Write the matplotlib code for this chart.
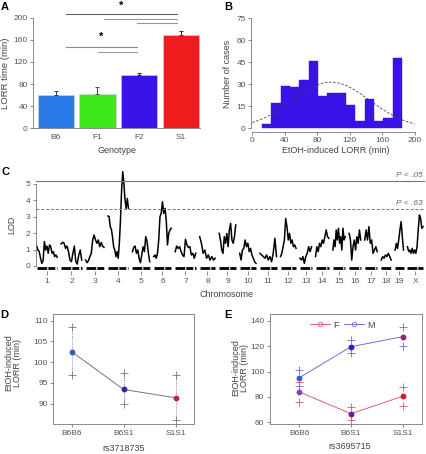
import numpy as np
import matplotlib
matplotlib.use("Agg")
import matplotlib.pyplot as plt
from matplotlib.lines import Line2D

plt.rcParams['font.family'] = ['Liberation Sans', 'DejaVu Sans']

# =====================
# DATA
# =====================
# A - LORR time per genotype
genotypes = ['B6', 'F1', 'F2', 'S1']
lorr_mean = [60, 62, 96, 168]
lorr_err = [7, 12, 3.5, 8]
bar_colors = ['#2a7ae8', '#3ee81c', '#3a12e6', '#ee1c1c']
err_colors = ['#1a3f80', '#1f6a10', '#20107a', '#801010']
# significance brackets (x from / to, height), stars
sig_left = [0.24, 1.16, 1.96, 0.24, 1.02]
sig_right = [2.9, 2.9, 2.9, 1.96, 1.96]
sig_y = [206, 197, 190, 147.5, 138.5]
sig_col = ['#666666', '#999999', '#999999', '#888888', '#999999']
star_x = [1.57, 1.1]
star_y = [222, 165]

# B - histogram of EtOH-induced LORR
bin_start = 12
bin_width = 11.5
hist_counts = [3, 17, 29, 28, 33, 46, 22, 24, 24, 16, 5, 20, 5, 7, 48]

# C - genome scan (LOD per chromosome)
chrom_names = ['1', '2', '3', '4', '5', '6', '7', '8', '9', '10',
               '11', '12', '13', '14', '15', '16', '17', '18', '19', 'X']
chrom_len = [103, 103, 92, 103, 87, 88, 103, 78, 83, 82,
             83, 78, 58, 67, 62, 58, 63, 50, 42, 78]
lod = [
    [1.21, 0.97, 0.87, 0.47, 0.16, 0.32, 1.48, 0.97, 1.21, 0.77, 1.28, 1.17, 0.77, 0.87, 0.57, 0.67, 0.53],
    [1.34, 1.44, 1.38, 1.07, 1.21, 0.87, 0.36, 0.26, 0.77, 1.21, 0.26, 0.12, 0.67, 0.97, 0.36],
    [0.36, 0.20, 0.32, 0.57, 0.77, 1.58, 1.88, 1.58, 1.38, 1.58, 1.17, 1.42, 1.21, 1.13],
    [3.04, 3.00, 2.39, 2.23, 1.78, 1.17, 0.97, 0.57, 0.87, 0.47, 1.38, 2.79, 4.62, 5.73, 5.02, 4.00, 3.50, 4.10, 3.50],
    [0.87, 1.13, 1.21, 0.77, 0.97, 0.47, 0.20, 0.67, 1.17, 0.87, 1.78, 1.48, 0.77, 0.26],
    [0.57, 0.67, 0.47, 0.77, 1.58, 3.00, 3.20, 3.90, 3.20, 3.50, 2.79, 1.28, 1.98, 2.19, 2.29],
    [0.87, 1.21, 1.07, 1.17, 0.87, 0.67, 0.57, 1.62, 1.28, 1.13, 1.17, 0.67, 0.77, 0.47, 0.77],
    [1.78, 1.38, 0.77, 0.97, 0.47, 0.67, 0.36, 0.57, 0.36, 0.47],
    [1.98, 1.58, 0.97, 0.77, 1.78, 1.38, 1.98, 1.17, 2.19, 2.59, 1.58, 1.38, 1.78, 2.49],
    [0.77, 0.36, 0.97, 1.07, 1.58, 1.17, 1.38, 0.87, 1.07, 0.67, 0.47, 0.26, 0.16],
    [0.77, 0.67, 0.57, 0.47, 0.67, 0.36, 0.57, 0.26, 0.77, 1.68, 0.57],
    [0.57, 0.77, 1.17, 1.58, 2.89, 2.39, 1.58, 1.98, 1.38, 1.58, 1.17, 1.28, 1.07],
    [0.47, 0.36, 0.57, 0.16, 0.57, 0.77, 1.17, 0.87, 1.17],
    [0.57, 1.17, 0.87, 1.38, 1.17, 1.58, 1.38, 1.78, 2.19, 1.78, 1.68],
    [0.97, 1.58, 1.17, 2.19, 1.58, 2.29, 1.38, 1.78, 0.97, 2.29, 1.58, 1.78],
    [1.98, 1.58, 0.36, 1.17, 1.58, 0.97, 1.78, 1.38, 2.19, 1.58],
    [1.58, 2.19, 1.58, 2.39, 1.38, 1.58, 0.77, 0.97, 1.17, 0.87],
    [0.36, 0.57, 0.47, 0.67, 0.57, 0.77, 0.57, 0.36],
    [0.97, 1.38, 1.07, 1.58, 2.19, 2.69, 1.78, 0.97],
    [1.17, 0.87, 0.97, 0.77, 1.07, 0.77, 0.97, 0.77, 1.17, 2.19, 3.10, 2.89, 2.29, 2.39],
]
thr_05 = 5.15
thr_63 = 3.44

# D - effect plot rs3718735
snp_geno = ['B6B6', 'B6S1', 'S1S1']
d_mean = [102.5, 93.4, 91.4]
d_hi = [108.4, 97.3, 96.8]
d_lo = [96.8, 89.8, 86.1]
d_cols = ['#3a5fb5', '#2a2aa0', '#b02a3a']
d_vcols = ['#8090d0', '#7070c0', '#c07890']

# E - effect plot rs3695715 by sex
m_mean = [95.1, 119.5, 127.4]
m_hi = [101.2, 124.8, 134.8]
m_lo = [88.6, 114.8, 120.3]
f_mean = [83.9, 66.8, 80.5]
f_hi = [91.5, 71.8, 87.6]
f_lo = [75.7, 61.8, 73.1]
m_pt_cols = ['#2f5fd0', '#2525c8', '#a02060']
f_pt_cols = ['#7a4ab0', '#6a1a9a', '#d0202a']

# =====================
# FIGURE
# =====================
W, H = 426, 454
fig = plt.figure(figsize=(W / 100, H / 100), dpi=100)

TICK_C = '#555555'
SPINE_C = '#777777'
LAB_C = '#444444'


def box(l, t, r, b):
    return fig.add_axes([l / W, 1 - b / H, (r - l) / W, (b - t) / H])


def style(ax):
    ax.tick_params(length=2.5, width=0.6, color=SPINE_C, labelsize=6,
                   labelcolor=TICK_C, pad=1.5)
    for s in ax.spines.values():
        s.set_color(SPINE_C)
        s.set_linewidth(0.6)


def letter(x, y, s):
    fig.text(x / W, 1 - y / H, s, fontsize=8, fontweight='bold',
             ha='left', va='center')


# ---- A
axA = box(33.3, 17.7, 200, 128.3)
style(axA)
xa = np.arange(len(genotypes))
axA.bar(xa, lorr_mean, width=0.87, color=bar_colors, edgecolor='#d8d8d8', linewidth=0.4)
for xi, m, e, c in zip(xa, lorr_mean, lorr_err, err_colors):
    axA.errorbar(xi, m, yerr=[[0], [e]], color=c, lw=0.7, capsize=1.5, capthick=0.7)
for l, r, y, c in zip(sig_left, sig_right, sig_y, sig_col):
    axA.plot([l, r], [y, y], color=c, lw=0.8, clip_on=False)
for sx, sy in zip(star_x, star_y):
    axA.text(sx, sy, '*', ha='center', va='center', fontsize=8, fontweight='bold')
axA.set_xlim(-0.54, 3.46)
axA.set_ylim(0, 200)
axA.set_yticks(range(0, 201, 40))
axA.set_xticks(xa)
axA.set_xticklabels(genotypes)
axA.tick_params(axis='x', length=0, pad=4)
axA.spines[['top', 'right']].set_visible(False)
axA.spines['left'].set_bounds(0, 200)
axA.set_ylabel('LORR time (min)', fontsize=6.8, color=LAB_C)
axA.yaxis.set_label_coords(-0.14, 0.5)
axA.set_xlabel('Genotype', fontsize=6.5, color=LAB_C)
axA.xaxis.set_label_coords(0.5, -0.16)
letter(0.5, 6.5, 'A')

# ---- B
axB = box(251.3, 16.8, 417.1, 131.7)
style(axB)
edges = bin_start + bin_width * np.arange(len(hist_counts) + 1)
axB.bar(edges[:-1], hist_counts, width=bin_width, align='edge',
        color='#3a12e6', edgecolor='#3a12e6', linewidth=0.3)
centers = (edges[:-1] + edges[1:]) / 2
cnt = np.array(hist_counts)
mu = np.sum(cnt * centers) / cnt.sum()
sd = np.sqrt(np.sum(cnt * (centers - mu) ** 2) / cnt.sum())
xs = np.linspace(0, 200, 300)
fit = cnt.sum() * bin_width * np.exp(-0.5 * ((xs - mu) / sd) ** 2) / (sd * np.sqrt(2 * np.pi))
axB.plot(xs, fit, color='#444444', lw=0.6, ls=(0, (3, 2)))
axB.set_xlim(-1.2, 203)
axB.set_ylim(-2.3, 76)
axB.set_xticks(range(0, 201, 40))
axB.set_yticks(range(0, 76, 15))
axB.spines[['top', 'right']].set_visible(False)
axB.spines['left'].set_bounds(0, 75)
axB.spines['bottom'].set_bounds(0, 200)
axB.set_ylabel('Number of cases', fontsize=6.5, color=LAB_C)
axB.yaxis.set_label_coords(-0.116, 0.5)
axB.set_xlabel('EtOH-induced LORR (min)', fontsize=6.5, color=LAB_C)
axB.xaxis.set_label_coords(0.51, -0.124)
letter(224, 7, 'B')

# ---- C
gap = 20
starts = np.concatenate([[0], np.cumsum(np.array(chrom_len[:-1]) + gap)])
total = starts[-1] + chrom_len[-1]
axC = box(35.7, 168.9, 425, 271.4)
style(axC)
mids = []
for st, ln, vals in zip(starts, chrom_len, lod):
    pos = np.linspace(st, st + ln, len(vals))
    axC.plot(pos, vals, color='black', lw=1.1)
    # marker rug below the curve
    axC.plot([st, st + ln], [-0.12, -0.12], color='black', lw=2.0,
             solid_capstyle='butt', ls=(0, (3.5, 0.4, 2.5, 0.6, 0.8, 0.6)))
    mids.append(st + ln / 2)
axC.axhline(thr_05, color='#777777', lw=0.8)
axC.axhline(thr_63, color='#777777', lw=0.7, ls=(0, (3, 2)))
axC.text(total, 5.5, 'P < .05', ha='right', va='center', fontsize=6,
         style='italic', color='#666666')
axC.text(total, 3.78, 'P < .63', ha='right', va='center', fontsize=6,
         style='italic', color='#666666')
axC.set_xlim(-5, total + 10)
axC.set_ylim(-0.33, 5.9)
axC.set_yticks(range(0, 6))
axC.set_xticks(mids)
axC.set_xticklabels(chrom_names)
axC.tick_params(axis='x', length=3, pad=2)
axC.spines[['top', 'right', 'bottom']].set_visible(False)
axC.spines['left'].set_bounds(0, 5)
axC.set_ylabel('LOD', fontsize=6.5, color=LAB_C)
axC.yaxis.set_label_coords(-0.0506, 0.45)
axC.set_xlabel('Chromosome', fontsize=6.5, color=LAB_C)
axC.xaxis.set_label_coords(0.489, -0.181)
letter(1.5, 172, 'C')

# ---- D
axD = box(53.3, 314.3, 194, 424.3)
style(axD)
xd = np.arange(len(snp_geno))
axD.plot(xd, d_mean, color='#777777', lw=0.7, zorder=2)
for xi, m, hi, lo, c, vc in zip(xd, d_mean, d_hi, d_lo, d_cols, d_vcols):
    axD.plot([xi, xi], [lo, hi], color=vc, lw=0.7, ls=(0, (1, 1.2)), zorder=1)
    axD.plot([xi, xi], [lo, hi], ls='none', marker='+', ms=6, mew=0.6, color='#777777')
    axD.plot(xi, m, 'o', ms=3.2, color=c, zorder=3)
axD.set_xlim(-0.354, 2.354)
axD.set_ylim(85.0, 111.55)
axD.set_yticks(range(90, 111, 5))
axD.set_xticks(xd)
axD.set_xticklabels(snp_geno)
axD.set_ylabel('EtOH-induced\nLORR (min)', fontsize=6.5, color=LAB_C, linespacing=1.0)
axD.yaxis.set_label_coords(-0.222, 0.557)
axD.set_xlabel('rs3718735', fontsize=6.5, color=LAB_C)
axD.xaxis.set_label_coords(0.5, -0.179)
letter(0.5, 315.5, 'D')

# ---- E
axE = box(270, 314.3, 421.7, 424)
style(axE)
xe = np.arange(len(snp_geno))
axE.plot(xe, m_mean, color='#7070e0', lw=0.7, zorder=2)
axE.plot(xe, f_mean, color='#e06070', lw=0.7, zorder=2)
for xi in xe:
    axE.plot([xi, xi], [m_lo[xi], m_hi[xi]], ls='none', marker='+', ms=6,
             mew=0.6, color='#6a6ae0')
    axE.plot([xi, xi], [f_lo[xi], f_hi[xi]], ls='none', marker='+', ms=6,
             mew=0.6, color='#e05565')
    axE.plot(xi, m_mean[xi], 'o', ms=3.2, color=m_pt_cols[xi], zorder=3)
    axE.plot(xi, f_mean[xi], 'o', ms=3.2, color=f_pt_cols[xi], zorder=3)
axE.set_xlim(-0.567, 2.368)
axE.set_ylim(58.7, 145)
axE.set_yticks(range(60, 141, 20))
axE.set_xticks(xe)
axE.set_xticklabels(snp_geno)
handles = [Line2D([], [], color='#e06070', lw=0.7, marker='o', mfc='none', ms=3.2, mew=0.6),
           Line2D([], [], color='#7070e0', lw=0.7, marker='o', mfc='none', ms=3.2, mew=0.6)]
leg = axE.legend(handles, ['F', 'M'], ncol=2, loc='upper center',
                 bbox_to_anchor=(0.478, 1.0), frameon=False, fontsize=6.5,
                 handlelength=2.2, handletextpad=0.4, columnspacing=0.6,
                 borderaxespad=0.3)
for t in leg.get_texts():
    t.set_color(LAB_C)
axE.set_ylabel('EtOH-induced\nLORR (min)', fontsize=6.5, color=LAB_C, linespacing=1.0)
axE.yaxis.set_label_coords(-0.138, 0.51)
axE.set_xlabel('rs3695715', fontsize=6.5, color=LAB_C)
axE.xaxis.set_label_coords(0.525, -0.164)
letter(224.5, 315.5, 'E')

fig.savefig('out.png', dpi=100)
